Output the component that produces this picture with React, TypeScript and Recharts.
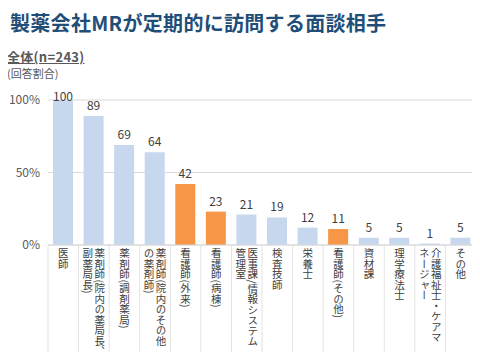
import { BarChart, Bar, XAxis, YAxis, CartesianGrid, Cell, LabelList } from "recharts";

const categories = [
  "医師",
  "薬剤師(院内の薬局長、\n副薬局長)",
  "薬剤師(調剤薬局)",
  "薬剤師(院内のその他\nの薬剤師)",
  "看護師(外来)",
  "看護師(病棟)",
  "医事課/情報システム\n管理室",
  "検査技師",
  "栄養士",
  "看護師(その他)",
  "資材課",
  "理学療法士",
  "介護福祉士・ケアマ\nネージャー",
  "その他",
];
const values = [100, 89, 69, 64, 42, 23, 21, 19, 12, 11, 5, 5, 1, 5];
const highlighted = [false, false, false, false, true, true, false, false, false, true, false, false, false, false];
const yTicks = [0, 50, 100];

const FONT = '"Noto Sans CJK JP", "Noto Sans", sans-serif';
const BLUE = "#c6d7ee";
const ORANGE = "#f79646";

const data = categories.map((name, i) => ({ name, value: values[i], hi: highlighted[i] }));

function CategoryTick(props: any) {
  const { x, y, payload, index } = props;
  const lines: string[] = String(payload.value).split("\n");
  const step = 428 / categories.length;
  const colGap = 12;
  const first = ((lines.length - 1) * colGap) / 2;
  return (
    <g>
      <line x1={x - step / 2} y1={y - 8} x2={x - step / 2} y2={y + 104} stroke="#e3e3e3" />
      {index === categories.length - 1 && (
        <line x1={x + step / 2} y1={y - 8} x2={x + step / 2} y2={y + 104} stroke="#e3e3e3" />
      )}
      {lines.map((t, i) => (
        <text
          key={i}
          x={x + first - i * colGap}
          y={y - 5}
          style={{ writingMode: "vertical-rl" }}
          fontSize={10.5}
          fontFamily={FONT}
          fill="#404040"
        >
          {t}
        </text>
      ))}
    </g>
  );
}

function ValueLabel(props: any) {
  const { x, y, width, value } = props;
  const ty = Math.max(y - 6, 101);
  return (
    <text x={x + width / 2} y={ty} textAnchor="middle" fontSize={12} fontFamily={FONT} fill="#404040">
      {value}
    </text>
  );
}

export default function App() {
  return (
    <div style={{ position: "relative", width: 480, height: 360, margin: -8, background: "#fff", fontFamily: FONT }}>
      <div style={{ position: "absolute", left: 10, top: 8, fontSize: 20, fontWeight: 700, color: "#1f4e79", whiteSpace: "nowrap", letterSpacing: 0.3 }}>
        製薬会社MRが定期的に訪問する面談相手
      </div>
      <div style={{ position: "absolute", left: 7, top: 47, fontSize: 13, fontWeight: 700, color: "#595959", textDecoration: "underline", letterSpacing: 0.3 }}>
        全体(n=243)
      </div>
      <div style={{ position: "absolute", left: 7, top: 65, fontSize: 11, color: "#595959" }}>(回答割合)</div>
      <div style={{ position: "absolute", left: 0, top: 0 }}>
        <BarChart width={480} height={360} data={data} margin={{ top: 100, right: 4, bottom: 0, left: 0 }} barSize={20}>
          <CartesianGrid vertical={false} stroke="#d9d9d9" />
          <XAxis
            dataKey="name"
            interval={0}
            tick={<CategoryTick />}
            tickLine={false}
            axisLine={{ stroke: "#d9d9d9" }}
            height={115}
          />
          <YAxis
            domain={[0, 100]}
            ticks={yTicks}
            width={48}
            tickFormatter={(v) => `${v}%`}
            tick={{ fill: "#595959", fontSize: 12, fontFamily: FONT }}
            tickLine={false}
            axisLine={false}
          />
          <Bar dataKey="value" isAnimationActive={false}>
            {data.map((d, i) => (
              <Cell key={i} fill={d.hi ? ORANGE : BLUE} />
            ))}
            <LabelList dataKey="value" content={<ValueLabel />} />
          </Bar>
        </BarChart>
      </div>
    </div>
  );
}
